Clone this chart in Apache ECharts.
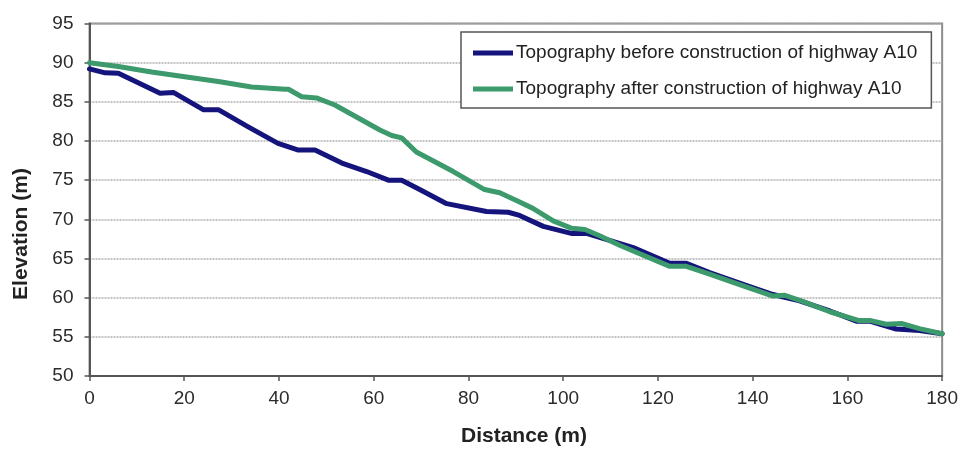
<!DOCTYPE html>
<html>
<head>
<meta charset="utf-8">
<script src="https://cdn.jsdelivr.net/npm/echarts@6/dist/echarts.min.js"></script>
<style>
  html, body { margin: 0; padding: 0; background: #fff; }
  #chart { width: 961px; height: 449px; }
</style>
</head>
<body>
<div id="chart"></div>
<script>
const seriesNames = ['Topography before construction of highway A10', 'Topography after construction of highway A10'];
const xTitle = 'Distance (m)';
const yTitle = 'Elevation (m)';

const distBefore = [0, 3.3, 6.1, 14.9, 17.7, 24.0, 27.2, 33.5, 39.8, 44.1, 47.6, 53.6, 58.5, 63.1, 65.9, 69.7, 75.4, 83.8, 88.4, 90.8, 95.8, 101.7, 104.9, 107.7, 114.8, 122.5, 126.0, 130.9, 138.0, 144.3, 149.9, 156.3, 161.9, 164.7, 170.3, 175.2, 180];
const elevBefore = [89.2, 88.7, 88.65, 86.1, 86.2, 84.0, 84.0, 81.8, 79.7, 78.85, 78.85, 77.1, 76.1, 75.0, 75.0, 73.8, 72.0, 71.0, 70.9, 70.5, 69.1, 68.2, 68.2, 67.7, 66.4, 64.4, 64.4, 63.2, 61.7, 60.4, 59.6, 58.3, 57.0, 57.0, 56.0, 55.8, 55.4];

const distAfter = [0, 6.1, 13.1, 20.1, 27.2, 34.2, 41.3, 42.0, 44.8, 47.9, 51.8, 61.3, 63.8, 65.9, 69.0, 76.8, 83.4, 86.6, 90.8, 93.6, 97.9, 101.8, 104.6, 107.7, 111.9, 122.5, 126.0, 130.9, 138.0, 144.3, 146.8, 150.7, 156.3, 162.3, 164.7, 168.2, 171.4, 175.2, 180];
const elevAfter = [90.0, 89.5, 88.8, 88.2, 87.6, 86.9, 86.6, 86.6, 85.65, 85.5, 84.6, 81.4, 80.7, 80.4, 78.6, 76.1, 73.8, 73.4, 72.2, 71.4, 69.8, 68.85, 68.7, 67.9, 66.7, 64.0, 64.0, 63.0, 61.5, 60.2, 60.3, 59.5, 58.2, 57.1, 57.1, 56.6, 56.7, 56.05, 55.4];

const xTicks = { min: 0, max: 180, interval: 20 };
const yTicks = { min: 50, max: 95, interval: 5 };

const FONT = 'Liberation Sans, Arial, sans-serif';
const zip = (a, b) => a.map((v, i) => [v, b[i]]);

const chart = echarts.init(document.getElementById('chart'), null, { renderer: 'canvas' });
chart.setOption({
  animation: false,
  backgroundColor: '#ffffff',
  grid: {
    left: 89.5, right: 18.5, top: 23.5, bottom: 73,
    show: true, borderColor: '#8c8c8c', borderWidth: 2, backgroundColor: 'transparent'
  },
  legend: {
    orient: 'vertical',
    left: 461, top: 32,
    padding: [11, 14, 9, 12],
    itemGap: 16,
    itemWidth: 40, itemHeight: 5,
    icon: 'rect',
    borderColor: '#555', borderWidth: 1.5, borderRadius: 0,
    backgroundColor: '#fff',
    textStyle: { fontFamily: FONT, fontSize: 19, color: '#222', lineHeight: 20, padding: [0, 0, 0, -2] },
    data: seriesNames
  },
  xAxis: {
    type: 'value',
    min: xTicks.min, max: xTicks.max, interval: xTicks.interval,
    axisLine: { show: true, onZero: false, lineStyle: { color: '#555', width: 2 } },
    axisTick: { show: true, length: 5, lineStyle: { color: '#555', width: 1.5 } },
    axisLabel: { fontFamily: FONT, fontSize: 19, color: '#2b2b2b', margin: 13 },
    splitLine: { show: false }
  },
  yAxis: {
    type: 'value',
    min: yTicks.min, max: yTicks.max, interval: yTicks.interval,
    axisLine: { show: true, onZero: false, lineStyle: { color: '#555', width: 2 } },
    axisTick: { show: true, length: 5, lineStyle: { color: '#555', width: 1.5 } },
    axisLabel: { fontFamily: FONT, fontSize: 19, color: '#2b2b2b', margin: 16 },
    splitLine: { show: true, lineStyle: { color: '#b0b0b0', width: 1.5, type: [2, 1] } }
  },
  graphic: [
    {
      type: 'text', x: 21, y: 234, rotation: Math.PI / 2,
      style: { text: yTitle, font: 'bold 21px ' + FONT, fill: '#222', textAlign: 'center', textVerticalAlign: 'middle' }
    },
    {
      type: 'text', x: 524, y: 436,
      style: { text: xTitle, font: 'bold 21px ' + FONT, fill: '#222', textAlign: 'center', textVerticalAlign: 'middle' }
    }
  ],
  series: [
    {
      name: seriesNames[0], type: 'line', data: zip(distBefore, elevBefore),
      symbol: 'none', color: '#14147c',
      lineStyle: { width: 5, color: '#14147c', join: 'round', cap: 'round' }
    },
    {
      name: seriesNames[1], type: 'line', data: zip(distAfter, elevAfter),
      symbol: 'none', color: '#3c9a6c',
      lineStyle: { width: 5, color: '#3c9a6c', join: 'round', cap: 'round' }
    }
  ]
});
</script>
</body>
</html>
